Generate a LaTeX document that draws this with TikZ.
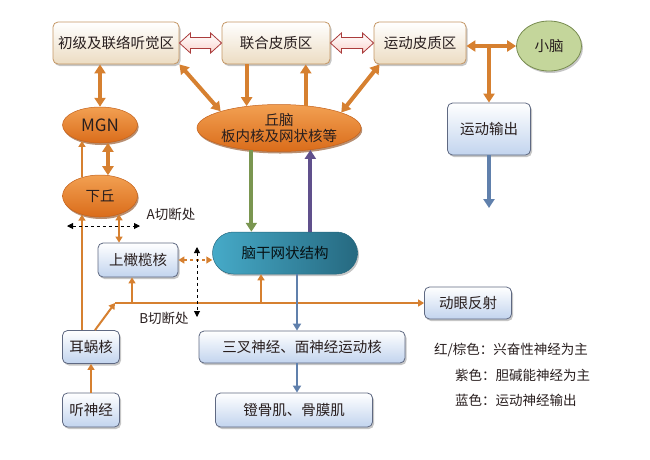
\documentclass[tikz,border=0pt]{standalone}
\usepackage{fontspec}
\setmainfont{Noto Sans CJK SC}
\usetikzlibrary{arrows.meta,shadows,calc,shapes.geometric}
\definecolor{org}{RGB}{214,128,48}
\definecolor{orgdark}{RGB}{196,98,28}
\definecolor{orgtop}{RGB}{242,160,82}
\definecolor{orgbot}{RGB}{218,108,26}
\definecolor{beigebot}{RGB}{236,220,194}
\definecolor{beigedraw}{RGB}{196,150,100}
\definecolor{bluebot}{RGB}{194,212,238}
\definecolor{bluedraw}{RGB}{95,105,130}
\definecolor{arrblue}{RGB}{96,128,172}
\definecolor{arrgreen}{RGB}{122,150,80}
\definecolor{arrpurple}{RGB}{96,80,140}
\definecolor{cerebfill}{RGB}{196,214,155}
\definecolor{cerebdraw}{RGB}{120,140,80}
\definecolor{tealL}{RGB}{70,170,200}
\definecolor{tealR}{RGB}{38,105,128}
\definecolor{pinkf}{RGB}{250,212,206}
\definecolor{pinkd}{RGB}{170,60,60}
\definecolor{txtdark}{RGB}{40,30,30}
\begin{document}
\begin{tikzpicture}[x=1pt,y=-1pt,
  base/.style={font=\fontsize{14.5}{17}\selectfont, inner sep=0pt},
  shad/.style={drop shadow={opacity=0.45, shadow xshift=1.5pt, shadow yshift=-2pt}},
  oshad/.style={drop shadow={opacity=0.6, fill=orgdark!70!black, shadow xshift=1.2pt, shadow yshift=-2pt}},
  bbox/.style={base, rectangle, rounded corners=5pt, draw=beigedraw, line width=0.8pt, top color=white, bottom color=beigebot, shad, text=txtdark},
  blbox/.style={base, rectangle, rounded corners=5pt, draw=bluedraw, line width=0.8pt, top color=white, bottom color=bluebot, shad, text=txtdark},
  oell/.style={base, ellipse, draw=orgdark, line width=0.5pt, top color=orgtop, bottom color=orgbot, oshad, text=txtdark},
  hollow/.style={draw=pinkd, line width=0.8pt, top color=white, bottom color=pinkf},
  thk/.style={draw=org, line width=4pt, -{Triangle[length=9pt,width=11pt]}},
  thkb/.style={draw=org, line width=4pt, {Triangle[length=9pt,width=11pt]}-{Triangle[length=9pt,width=11pt]}},
  thn/.style={draw=org, line width=2pt, -{Triangle[length=6pt,width=7pt]}},
  thnb/.style={draw=org, line width=2pt, {Triangle[length=6pt,width=7pt]}-{Triangle[length=6pt,width=7pt]}},
  cut/.style={draw=black, dashed, line width=0.9pt, {Triangle[length=6pt,width=6pt]}-{Triangle[length=6pt,width=6pt]}},
  lbl/.style={base, font=\fontsize{13.5}{16}\selectfont, text=txtdark}
]
\useasboundingbox (0,0) rectangle (650,459);

% top row
\node[bbox, minimum width=126pt, minimum height=42pt] (aud) at (116,43) {初级及联络听觉区};
\node[bbox, minimum width=108pt, minimum height=42pt] (assoc) at (276,43) {联合皮质区};
\node[bbox, minimum width=92pt, minimum height=42pt] (motor) at (420,43) {运动皮质区};
\node[base, ellipse, draw=cerebdraw, line width=0.8pt, fill=cerebfill, shad, minimum width=65pt, minimum height=50pt, text=txtdark] (cereb) at (549,46) {小脑};
\node[blbox, minimum width=83pt, minimum height=52pt] (mout) at (489,129) {运动输出};

% ellipses
\node[oell, minimum width=157pt, minimum height=47pt, align=center, font=\fontsize{14.5}{15.5}\selectfont] (thal) at (279,128) {丘脑\\板内核及网状核等};
\node[oell, minimum width=75pt, minimum height=36pt, font=\fontsize{17}{19}\selectfont] (mgn) at (100,125) {MGN};
\node[oell, minimum width=75pt, minimum height=42pt] (ic) at (100,196) {下丘};

% middle / lower
\node[blbox, minimum width=80pt, minimum height=34pt] (soc) at (138,260) {上橄榄核};
\node[base, rectangle, rounded corners=21pt, draw=tealR, line width=0.5pt, left color=tealL, right color=tealR, shad, minimum width=145pt, minimum height=42pt, text=black!85!tealR] (rf) at (285,253) {脑干网状结构};
\node[blbox, minimum width=57pt, minimum height=33pt] (cn) at (91,347) {耳蜗核};
\node[blbox, minimum width=57pt, minimum height=34pt] (an) at (91,410) {听神经};
\node[blbox, minimum width=87pt, minimum height=32pt] (oculo) at (468,303) {动眼反射};
\node[blbox, minimum width=206pt, minimum height=32pt] (tri) at (302,347) {三叉神经、面神经运动核};
\node[blbox, minimum width=157pt, minimum height=34pt] (stap) at (294,410) {镫骨肌、骨膜肌};

% hollow double arrows
\draw[hollow] let \p1=(aud.east), \p2=(assoc.west) in
  (\x1,\y1) -- ++(11pt,10pt) -- ++(0pt,-4.5pt) -- (\x2-11pt,\y2+5.5pt) -- ++(0pt,4.5pt)
  -- (\x2,\y2) -- ++(-11pt,-10pt) -- ++(0pt,4.5pt) -- (\x1+11pt,\y1-5.5pt) -- ++(0pt,-4.5pt) -- cycle;
\draw[hollow] let \p1=(assoc.east), \p2=(motor.west) in
  (\x1,\y1) -- ++(11pt,10pt) -- ++(0pt,-4.5pt) -- (\x2-11pt,\y2+5.5pt) -- ++(0pt,4.5pt)
  -- (\x2,\y2) -- ++(-11pt,-10pt) -- ++(0pt,4.5pt) -- (\x1+11pt,\y1-5.5pt) -- ++(0pt,-4.5pt) -- cycle;

% cortex <-> thalamus
\draw[thkb] (aud.south east) -- (thal.164);
\draw[thk] (thal.146 |- assoc.south) -- (thal.146);
\draw[thk] (thal.40) -- (thal.40 |- assoc.south);
\draw[thkb] ([xshift=6pt]motor.south west) -- (thal.14);

% motor cortex, cerebellum, motor output
\draw[thkb] (cereb.west -| motor.east) -- (cereb.west);
\draw[thk] (mout.north |- cereb.west) -- (mout.north);
\coordinate (mend) at (489,208);
\draw[draw=arrblue, line width=4pt, -{Triangle[length=9pt,width=11pt]}] (mout.south) -- (mend);

% auditory pathway
\draw[thkb] (mgn.north) -- (mgn.north |- aud.south);
\draw[thkb] (mgn.-66) -- (mgn.-66 |- ic.69);
\draw[thn] (ic.134) -- (ic.134 |- mgn.221);
\draw[thn] (ic.226 |- cn.north) -- (ic.226);
\draw[thnb] (ic.-44) -- (ic.-44 |- soc.north);
\draw[thn] (an.north) -- (cn.south);

% cochlear nucleus branches
\coordinate (j) at (115,303);
\draw[thn] ([xshift=4pt]cn.north) -- (j);
\draw[thn] (j) -- (j -| oculo.west);
\draw[thn] ([xshift=-6pt]soc.south |- j) -- ([xshift=-6pt]soc.south);
\draw[thn] ([xshift=-24pt]rf.south |- j) -- ([xshift=-24pt]rf.south);

% SOC <-> reticular formation
\draw[draw=org, line width=1.6pt, dash pattern=on 3pt off 3pt, {Triangle[length=6pt,width=7pt]}-{Triangle[length=6pt,width=7pt]}] (soc.east) -- (soc.east -| rf.west);

% cuts
\coordinate (A1) at (67,226);
\coordinate (A2) at (140,226);
\draw[cut] (A1) -- (A2);
\node[lbl] (Alab) at (171,214) {A切断处};
\coordinate (B1) at (197,247);
\coordinate (B2) at (197,317);
\draw[cut] (B1) -- (B2);
\node[lbl] (Blab) at (164,318) {B切断处};

% thalamus <-> reticular formation
\draw[draw=arrgreen, line width=4pt, -{Triangle[length=9pt,width=11pt]}] (thal.219) -- (thal.219 |- rf.north);
\draw[draw=arrpurple, line width=4pt, -{Triangle[length=9pt,width=11pt]}] (thal.-35 |- rf.north) -- (thal.-35);

% motor outputs
\draw[draw=arrblue, line width=2pt, -{Triangle[length=7pt,width=8pt]}] ([xshift=12pt]rf.south) -- ([xshift=12pt]rf.south |- tri.north);
\draw[draw=arrblue, line width=2pt, -{Triangle[length=7pt,width=8pt]}] ([xshift=-5pt]tri.south) -- ([xshift=-5pt]tri.south |- stap.north);

% legend
\node[lbl, anchor=west] (lg1) at (434,350) {红/棕色：兴奋性神经为主};
\node[lbl, anchor=west] (lg2) at (455,375) {紫色：胆碱能神经为主};
\node[lbl, anchor=west] (lg3) at (455,400) {蓝色：运动神经输出};
\end{tikzpicture}
\end{document}
